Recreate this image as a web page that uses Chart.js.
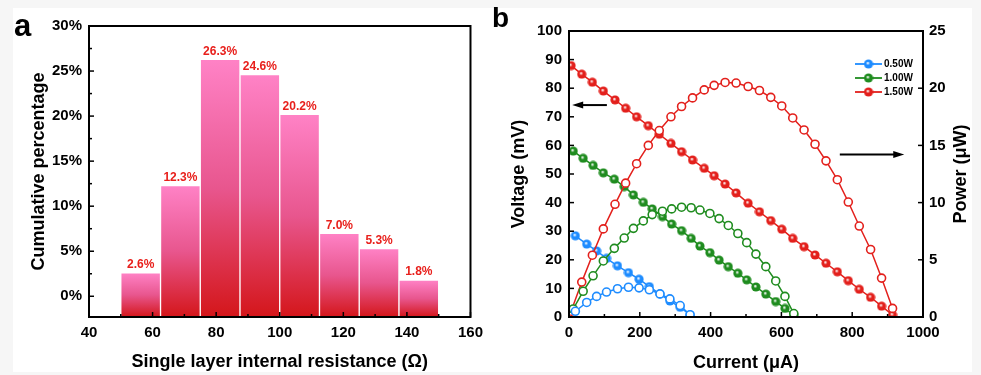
<!DOCTYPE html>
<html>
<head>
<meta charset="utf-8">
<script src="https://cdn.jsdelivr.net/npm/chart.js@4.4.0/dist/chart.umd.min.js"></script>
<style>
  html, body { margin: 0; padding: 0; background: #f6f6f6; }
  #page { position: relative; width: 981px; height: 375px; overflow: hidden; }
  #sheet { position: absolute; left: 13px; top: 8px; width: 959px; height: 364px; background: #fff; }
  .box { position: absolute; top: 0; height: 375px; }
  #boxA { left: 0; width: 490px; }
  #boxB { left: 490px; width: 491px; }
</style>
</head>
<body>
<div id="page">
  <div id="sheet"></div>
  <div class="box" id="boxA"><canvas id="chartA" width="490" height="375"></canvas></div>
  <div class="box" id="boxB"><canvas id="chartB" width="491" height="375"></canvas></div>
</div>
<script>
// ---- panel a: resistance histogram ----
const binCenters = [56.25, 68.75, 81.25, 93.75, 106.25, 118.75, 131.25, 143.75];
const binShares = [2.6, 12.3, 26.3, 24.6, 20.2, 7.0, 5.3, 1.8];
const resistanceTicks = [40, 60, 80, 100, 120, 140, 160];
const percentTicks = [0, 5, 10, 15, 20, 25, 30];
const percentMin = -2.3;

// ---- panel b: I-V and I-P curves ----
const seriesNames = ['0.50W', '1.00W', '1.50W'];
const seriesColors = ['#1e8cff', '#1f8c1f', '#e3201c'];

const current050 = [18, 50, 78, 106, 137, 168, 198, 227, 257, 285, 314, 342];
const voltage050 = [28.4, 25.5, 23.1, 20.5, 17.9, 15.5, 13.2, 10.6, 8.0, 5.6, 3.4, 0.7];
const power050 = [0.5, 1.27, 1.8, 2.18, 2.47, 2.6, 2.55, 2.38, 2.02, 1.58, 1.0, 0.2];

const current100 = [12, 40, 68, 97, 128, 156, 182, 210, 235, 264, 290, 318, 345, 370, 398, 424, 450, 477, 502, 528, 556, 584, 610, 635];
const voltage100 = [58, 55.5, 53, 50.4, 48.2, 45.6, 42.7, 40.1, 37.8, 35.1, 32.5, 30.2, 27.5, 24.8, 22.5, 19.9, 17.6, 15.3, 13, 10.5, 8, 5.4, 3, 0.6];
const power100 = [0.7, 2.25, 3.6, 4.9, 6.0, 6.9, 7.75, 8.4, 8.95, 9.25, 9.45, 9.6, 9.55, 9.35, 9.05, 8.6, 8.0, 7.3, 6.5, 5.5, 4.4, 3.15, 1.8, 0.3];

const current150 = [6, 36, 66, 97, 130, 160, 191, 224, 255, 288, 318, 349, 382, 410, 441, 472, 506, 538, 570, 601, 632, 664, 695, 726, 758, 789, 820, 852, 883, 914];
const voltage150 = [87.9, 84.9, 82.1, 79, 75.9, 73, 70, 66.9, 63.9, 60.7, 57.8, 54.9, 52, 49.4, 46.5, 43.4, 39.8, 36.8, 33.7, 30.7, 27.5, 24.6, 21.7, 18.8, 15.8, 12.7, 9.7, 6.9, 3.8, 0.7];
const power150 = [0.5, 3.05, 5.4, 7.7, 9.85, 11.7, 13.4, 15.0, 16.3, 17.5, 18.4, 19.15, 19.85, 20.25, 20.5, 20.45, 20.15, 19.8, 19.2, 18.45, 17.4, 16.35, 15.1, 13.65, 12.0, 10.05, 7.95, 5.9, 3.4, 0.75];

const currentTicks = [0, 200, 400, 600, 800, 1000];
const voltageTicks = [0, 10, 20, 30, 40, 50, 60, 70, 80, 90, 100];
const powerTicks = [0, 5, 10, 15, 20, 25];

const FONT = "'Liberation Sans', Arial, sans-serif";
Chart.defaults.font.family = FONT;
Chart.defaults.color = '#000';

const tickFont = { size: 15, weight: 'bold' };
const titleFont = { size: 18, weight: 'bold' };

const midpoints = arr => arr.slice(1).map((v, i) => (v + arr[i]) / 2);
const fixTicks = values => s => { s.ticks = values.map(v => ({ value: v })); };
const fixWidth = w => s => { s.width = w; };
const fixHeight = h => s => { s.height = h; };
const plain = v => String(v);

// frame round the plot area + inward tick marks
function frame(marks) {
    return {
        id: 'frame',
        afterDraw(chart) {
            const { ctx, chartArea: a } = chart;
            ctx.save();
            ctx.strokeStyle = '#000';
            ctx.lineWidth = 1.5;
            marks.forEach(m => {
                const s = chart.scales[m.scale];
                m.values.forEach(v => {
                    const p = s.getPixelForValue(v);
                    ctx.beginPath();
                    if (m.side === 'bottom') { ctx.moveTo(p, a.bottom); ctx.lineTo(p, a.bottom - m.len); }
                    else if (m.side === 'left') { ctx.moveTo(a.left, p); ctx.lineTo(a.left + m.len, p); }
                    else { ctx.moveTo(a.right, p); ctx.lineTo(a.right - m.len, p); }
                    ctx.stroke();
                });
            });
            ctx.lineWidth = 2;
            ctx.strokeRect(a.left, a.top, a.right - a.left, a.bottom - a.top);
            ctx.restore();
        }
    };
}

function panelLetter(text, x, y, size) {
    return {
        id: 'letter',
        afterDraw(chart) {
            const ctx = chart.ctx;
            ctx.save();
            ctx.font = `bold ${size}px ${FONT}`;
            ctx.fillStyle = '#000';
            ctx.textBaseline = 'alphabetic';
            ctx.fillText(text, x, y);
            ctx.restore();
        }
    };
}

// ---------------- chart a ----------------
const barFill = (c) => {
    const chart = c.chart;
    if (!chart.chartArea || c.type !== 'data') return '#f070a8';
    const y = chart.scales.y;
    const top = y.getPixelForValue(binShares[c.dataIndex]);
    const bottom = y.getPixelForValue(percentMin);
    const g = chart.ctx.createLinearGradient(0, top, 0, bottom);
    g.addColorStop(0, '#ff82c6');
    g.addColorStop(0.5, '#e8568e');
    g.addColorStop(1, '#d4161a');
    return g;
};

const barLabels = {
    id: 'barLabels',
    afterDatasetsDraw(chart) {
        const ctx = chart.ctx;
        const meta = chart.getDatasetMeta(0);
        ctx.save();
        ctx.font = `bold 12px ${FONT}`;
        ctx.fillStyle = '#e8201c';
        ctx.textAlign = 'center';
        ctx.textBaseline = 'bottom';
        meta.data.forEach((bar, i) => {
            ctx.fillText(binShares[i].toFixed(1) + '%', bar.x, bar.y - 2);
        });
        ctx.restore();
    }
};

new Chart(document.getElementById('chartA'), {
    type: 'bar',
    data: {
        datasets: [{
            data: binCenters.map((c, i) => ({ x: c, y: binShares[i] })),
            base: percentMin,
            backgroundColor: barFill,
            borderColor: '#fff',
            borderWidth: 1,
            borderSkipped: 'start',
            barPercentage: 1,
            categoryPercentage: 1
        }]
    },
    options: {
        responsive: false,
        animation: false,
        layout: { padding: { top: 26, right: 8, left: 0, bottom: 0 } },
        plugins: { legend: { display: false }, tooltip: { enabled: false } },
        scales: {
            x: {
                type: 'linear', min: 40, max: 160, offset: false,
                grid: { display: false, drawTicks: false }, border: { display: false },
                ticks: { font: tickFont, padding: 7, maxRotation: 0, autoSkip: false, callback: plain },
                afterBuildTicks: fixTicks(resistanceTicks),
                afterFit: fixHeight(58),
                title: { display: true, text: 'Single layer internal resistance (Ω)', font: titleFont, padding: { top: 0, bottom: 2 } }
            },
            y: {
                min: percentMin, max: 30,
                grid: { display: false, drawTicks: false }, border: { display: false },
                ticks: { font: tickFont, padding: 7, callback: v => v + '%' },
                afterBuildTicks: fixTicks(percentTicks),
                afterFit: fixWidth(89),
                title: { display: true, text: 'Cumulative percentage', font: titleFont, padding: { top: 28, bottom: 0 } }
            }
        }
    },
    plugins: [
        frame([
            { scale: 'x', side: 'bottom', len: 5, values: resistanceTicks },
            { scale: 'x', side: 'bottom', len: 3, values: midpoints(resistanceTicks) },
            { scale: 'y', side: 'left', len: 5, values: percentTicks },
            { scale: 'y', side: 'left', len: 3, values: midpoints(percentTicks) }
        ]),
        barLabels,
        panelLetter('a', 14, 36, 31)
    ]
});

// ---------------- chart b ----------------
function ball(color) {
    const c = document.createElement('canvas');
    c.width = c.height = 10;
    const g = c.getContext('2d');
    const grad = g.createRadialGradient(4.2, 4, 0.3, 5, 5, 5);
    grad.addColorStop(0, '#ffffff');
    grad.addColorStop(0.35, color);
    grad.addColorStop(1, color);
    g.fillStyle = grad;
    g.beginPath();
    g.arc(5, 5, 4.6, 0, Math.PI * 2);
    g.fill();
    return c;
}
const balls = seriesColors.map(ball);

const curves = [
    { current: current050, voltage: voltage050, power: power050 },
    { current: current100, voltage: voltage100, power: power100 },
    { current: current150, voltage: voltage150, power: power150 }
];

const powerSets = curves.map((s, i) => ({
    label: seriesNames[i] + ' P',
    data: s.current.map((x, k) => ({ x, y: s.power[k] })),
    yAxisID: 'yP',
    borderColor: seriesColors[i],
    borderWidth: 1.5,
    pointStyle: 'circle',
    pointRadius: 4,
    pointBackgroundColor: '#fff',
    pointBorderColor: seriesColors[i],
    pointBorderWidth: 1.6
}));
const voltageSets = curves.map((s, i) => ({
    label: seriesNames[i],
    data: s.current.map((x, k) => ({ x, y: s.voltage[k] })),
    yAxisID: 'yV',
    borderColor: seriesColors[i],
    borderWidth: 1.5,
    pointStyle: balls[i],
    pointRadius: 5
}));

const legendB = {
    id: 'legendB',
    afterDraw(chart) {
        const { ctx, chartArea: a } = chart;
        ctx.save();
        ctx.font = `bold 10px ${FONT}`;
        ctx.textBaseline = 'middle';
        ctx.fillStyle = '#000';
        seriesNames.forEach((name, i) => {
            const y = a.top + 33 + i * 14;
            const x0 = a.right - 68;
            ctx.strokeStyle = seriesColors[i];
            ctx.lineWidth = 1.8;
            ctx.beginPath();
            ctx.moveTo(x0, y);
            ctx.lineTo(x0 + 27, y);
            ctx.stroke();
            ctx.drawImage(balls[i], x0 + 8.5, y - 5);
            ctx.fillText(name, x0 + 29, y + 0.5);
        });
        ctx.restore();
    }
};

// right-hand title, reading bottom to top like the left one
const rightTitle = {
    id: 'rightTitle',
    afterDraw(chart) {
        const { ctx, chartArea: a } = chart;
        ctx.save();
        ctx.translate(chart.width - 19.5, (a.top + a.bottom) / 2);
        ctx.rotate(-Math.PI / 2);
        ctx.font = `bold 18px ${FONT}`;
        ctx.fillStyle = '#000';
        ctx.textAlign = 'center';
        ctx.textBaseline = 'middle';
        ctx.fillText('Power (μW)', 0, 0);
        ctx.restore();
    }
};

function arrow(ctx, x1, y, x2) {
    const dir = Math.sign(x2 - x1);
    ctx.beginPath();
    ctx.moveTo(x1, y);
    ctx.lineTo(x2 - dir * 8, y);
    ctx.stroke();
    ctx.beginPath();
    ctx.moveTo(x2, y);
    ctx.lineTo(x2 - dir * 11, y - 3.5);
    ctx.lineTo(x2 - dir * 11, y + 3.5);
    ctx.closePath();
    ctx.fill();
}

const arrowsB = {
    id: 'arrowsB',
    afterDraw(chart) {
        const { ctx, scales } = chart;
        ctx.save();
        ctx.strokeStyle = '#000';
        ctx.fillStyle = '#000';
        ctx.lineWidth = 2;
        arrow(ctx, scales.x.getPixelForValue(107), scales.yV.getPixelForValue(74.1), scales.x.getPixelForValue(9));
        arrow(ctx, scales.x.getPixelForValue(765), scales.yP.getPixelForValue(14.2), scales.x.getPixelForValue(947));
        ctx.restore();
    }
};

new Chart(document.getElementById('chartB'), {
    type: 'line',
    data: { datasets: [...powerSets, ...voltageSets] },
    options: {
        responsive: false,
        animation: false,
        layout: { padding: { top: 31, right: 0, left: 0, bottom: 0 } },
        plugins: { legend: { display: false }, tooltip: { enabled: false } },
        scales: {
            x: {
                type: 'linear', min: 0, max: 1000,
                grid: { display: false, drawTicks: false }, border: { display: false },
                ticks: { font: tickFont, padding: 7, maxRotation: 0, autoSkip: false, callback: plain },
                afterBuildTicks: fixTicks(currentTicks),
                afterFit: fixHeight(58),
                title: { display: true, text: 'Current (μA)', font: titleFont, padding: { top: 0, bottom: 1 } }
            },
            yV: {
                position: 'left', min: 0, max: 100,
                grid: { display: false, drawTicks: false }, border: { display: false },
                ticks: { font: tickFont, padding: 7, callback: plain },
                afterBuildTicks: fixTicks(voltageTicks),
                afterFit: fixWidth(79),
                title: { display: true, text: 'Voltage (mV)', font: titleFont, padding: { top: 18, bottom: 0 } }
            },
            yP: {
                position: 'right', min: 0, max: 25,
                grid: { display: false, drawTicks: false }, border: { display: false },
                ticks: { font: tickFont, padding: 6, callback: plain },
                afterBuildTicks: fixTicks(powerTicks),
                afterFit: fixWidth(58),
                title: { display: false }
            }
        }
    },
    plugins: [
        frame([
            { scale: 'x', side: 'bottom', len: 5, values: currentTicks },
            { scale: 'x', side: 'bottom', len: 3, values: midpoints(currentTicks) },
            { scale: 'yV', side: 'left', len: 5, values: voltageTicks },
            { scale: 'yP', side: 'right', len: 5, values: powerTicks }
        ]),
        legendB,
        arrowsB,
        rightTitle,
        panelLetter('b', 2, 27, 28)
    ]
});
</script>
</body>
</html>
